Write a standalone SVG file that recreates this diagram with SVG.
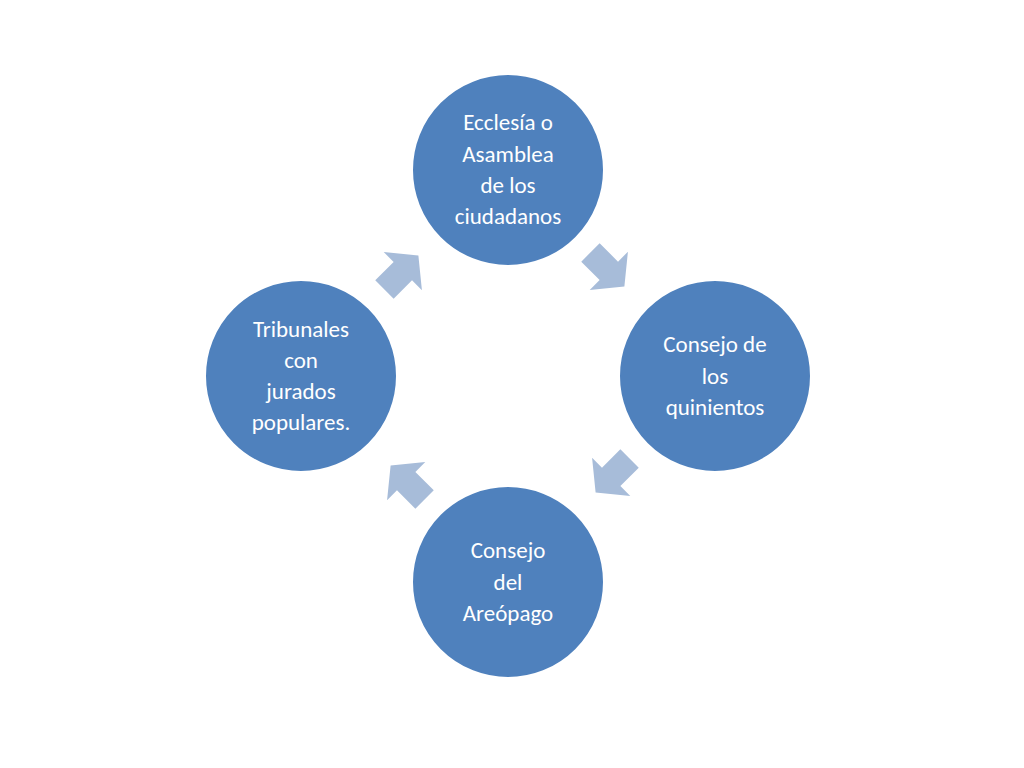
<svg xmlns="http://www.w3.org/2000/svg" width="1024" height="768" viewBox="0 0 1024 768">
<defs>
<style>
.n{fill:#4f81bd;stroke:#fff;stroke-width:2}
.t{font-family:Calibri,Carlito,"Liberation Sans",sans-serif;font-size:23px;fill:#fff;text-anchor:middle}
.a{fill:#a7bcd9}
</style>
<path id="arr" d="M-22,-13 L4,-13 L4,-27 L26,0 L4,27 L4,13 L-22,13 Z"/>
</defs>
<rect width="1024" height="768" fill="#fff"/>
<g id="connectors">
<use href="#arr" class="a" transform="translate(606,268) rotate(45)"/>
<use href="#arr" class="a" transform="translate(614,474) rotate(135)"/>
<use href="#arr" class="a" transform="translate(409,484) rotate(225)"/>
<use href="#arr" class="a" transform="translate(400,274) rotate(-45)"/>
</g>
<g id="n1"><circle class="n" cx="508" cy="170" r="96"/>
<text class="t"><tspan x="508" y="130">Ecclesía o</tspan><tspan x="508" y="162">Asamblea</tspan><tspan x="508" y="193">de los</tspan><tspan x="508" y="224">ciudadanos</tspan></text></g>
<g id="n2"><circle class="n" cx="715" cy="376" r="96"/>
<text class="t"><tspan x="715" y="352">Consejo de</tspan><tspan x="715" y="384">los</tspan><tspan x="715" y="415">quinientos</tspan></text></g>
<g id="n3"><circle class="n" cx="508" cy="582" r="96"/>
<text class="t"><tspan x="508" y="558">Consejo</tspan><tspan x="508" y="590">del</tspan><tspan x="508" y="621">Areópago</tspan></text></g>
<g id="n4"><circle class="n" cx="301" cy="376" r="96"/>
<text class="t"><tspan x="301" y="337">Tribunales</tspan><tspan x="301" y="368">con</tspan><tspan x="301" y="399">jurados</tspan><tspan x="301" y="430">populares.</tspan></text></g>
</svg>
